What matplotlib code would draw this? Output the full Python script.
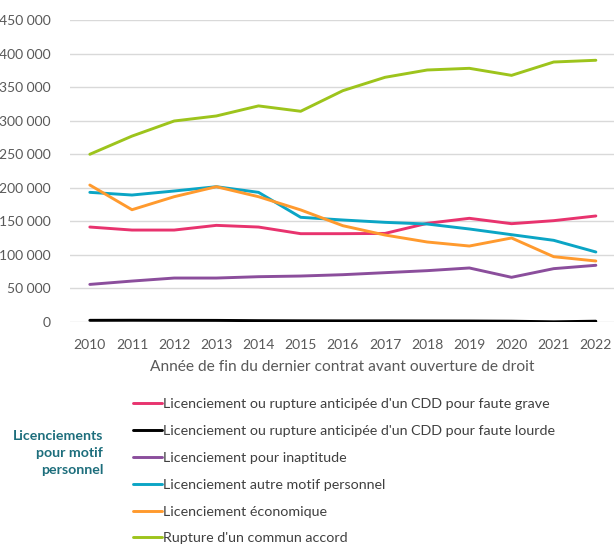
import matplotlib
matplotlib.use('Agg')
import matplotlib.pyplot as plt
from matplotlib.ticker import FuncFormatter

# === DONNEES ===
annees = list(range(2010, 2023))

faute_grave = [141500, 137000, 137000, 144000, 141500, 131600, 131600, 132000,
               147000, 154500, 146500, 151000, 158000]
faute_lourde = [2500, 2600, 2500, 2400, 2000, 1800, 1700, 1700, 1600, 1500,
                1200, 300, 1200]
inaptitude = [56000, 61000, 65500, 65500, 67500, 68500, 70500, 73500, 76500,
              80500, 66600, 79500, 84500]
autre_motif = [193200, 189200, 195200, 201600, 193200, 156000, 152000, 148500,
               146000, 138600, 130100, 121700, 104300]
economique = [204100, 167300, 186700, 201600, 186700, 167000, 143500, 129600,
              119200, 113200, 125200, 97300, 90900]
commun_accord = [249900, 277000, 299500, 307000, 322000, 314000, 344700,
                 364600, 375500, 378000, 367500, 387400, 390000]

series = [
    ("Licenciement ou rupture anticipée d'un CDD pour faute grave", faute_grave, '#E8336E'),
    ("Licenciement ou rupture anticipée d'un CDD pour faute lourde", faute_lourde, '#000000'),
    ("Licenciement pour inaptitude", inaptitude, '#8B4E9C'),
    ("Licenciement autre motif personnel", autre_motif, '#0BA5C5'),
    ("Licenciement économique", economique, '#FF9A2E'),
    ("Rupture d'un commun accord", commun_accord, '#9DC41C'),
]

plt.rcParams['font.family'] = ['Lato', 'DejaVu Sans']

fig = plt.figure(figsize=(6.14, 5.46), dpi=100)
ax = fig.add_axes([70 / 614, 1 - 322 / 546, 544 / 614, 302 / 546])

for label, vals, col in series:
    ax.plot(annees, vals, color=col, linewidth=2.1, label=label,
            solid_capstyle='round')

ax.set_ylim(0, 450000)
ax.set_xlim(2009.53, 2022.43)
ax.set_yticks(range(0, 450001, 50000))
ax.set_xticks(annees)
ax.yaxis.set_major_formatter(FuncFormatter(lambda v, p: f'{int(v):,}'.replace(',', ' ')))
ax.grid(axis='y', color='#D9D9D9', linewidth=1)
ax.set_axisbelow(True)
for s in ax.spines.values():
    s.set_visible(False)
ax.tick_params(length=0, colors='#595959', labelsize=10)
ax.tick_params(axis='y', pad=14)
ax.tick_params(axis='x', pad=12)
ax.set_xlabel("Année de fin du dernier contrat avant ouverture de droit",
              color='#595959', fontsize=11.2, labelpad=7)

fig.legend(loc='upper left', bbox_to_anchor=(133 / 614, 1 - 398 / 546),
           frameon=False, fontsize=10.3, handlelength=2.0, handletextpad=0.1,
           labelspacing=1.04, borderaxespad=0, borderpad=0,
           labelcolor='#404040')

fig.text(103 / 614, 1 - 453 / 546, "Licenciements\npour motif\npersonnel",
         ha='right', va='center', color='#1D6E7C', fontsize=10.2,
         fontweight='bold', linespacing=1.5)

fig.savefig('out.png', dpi=100)
